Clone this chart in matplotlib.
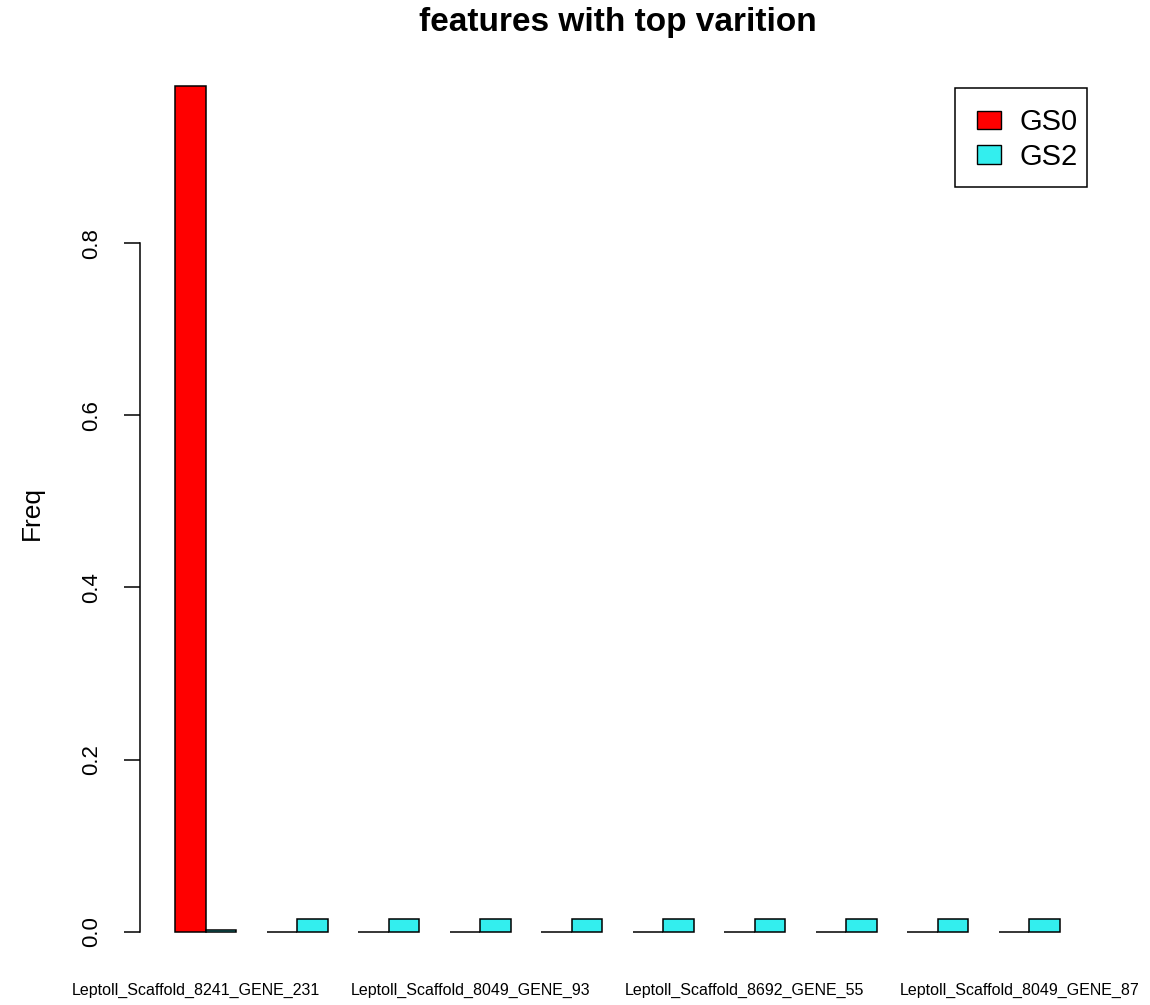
import numpy as np
import matplotlib
matplotlib.use("Agg")
import matplotlib.pyplot as plt
from matplotlib.patches import Patch, Rectangle
from matplotlib.transforms import ScaledTranslation

plt.rcParams['font.family'] = ['Liberation Sans', 'DejaVu Sans']

# ---- data ----
features = ["Leptoll_Scaffold_8241_GENE_231", "", "",
            "Leptoll_Scaffold_8049_GENE_93", "", "",
            "Leptoll_Scaffold_8692_GENE_55", "", "",
            "Leptoll_Scaffold_8049_GENE_87"]
groups = ["GS0", "GS2"]
gs0 = [0.983, 0, 0, 0, 0, 0, 0, 0, 0, 0]
gs2 = [0.002, 0.0148, 0.0148, 0.0148, 0.0148, 0.0148, 0.0148, 0.0148, 0.0148, 0.0148]
colors = ["#FF0000", "#33EEEE"]
title = "features with top varition"
ylabel = "Freq"
yticks = [0.0, 0.2, 0.4, 0.6, 0.8]

W, H = 1150, 1005
fig = plt.figure(figsize=(W / 100, H / 100), dpi=100)
ax = fig.add_axes([140 / W, 1 - 965.5 / H, 955 / W, (965.5 - 52) / H])

n = len(features)
idx = np.arange(n)
left0 = 1 + 3 * idx
left1 = 2 + 3 * idx
ax.bar(left0, gs0, width=1, align='edge', color=colors[0], edgecolor='black', linewidth=1.1)
ax.bar(left1, gs2, width=1, align='edge', color=colors[1], edgecolor='black', linewidth=1.1)

ymax = max(max(gs0), max(gs2))
ax.set_ylim(-0.04 * ymax, 1.04 * ymax)
ax.set_xlim(-0.16, 31.16)

for s in ['top', 'right', 'bottom']:
    ax.spines[s].set_visible(False)
ax.spines['left'].set_bounds(yticks[0], yticks[-1])
ax.spines['left'].set_linewidth(1.1)

ax.set_yticks(yticks)
ax.set_yticklabels([f"{v:.1f}" for v in yticks], rotation=90, va='center', fontsize=16)
ax.tick_params(axis='y', length=11.5, width=1.1, pad=16)

centers = 3 * idx + 2
ax.set_xticks(centers)
ax.set_xticklabels(features, fontsize=11.5)
ax.tick_params(axis='x', length=0, pad=12.5)
shift = ScaledTranslation(-10 / 100, 0, fig.dpi_scale_trans)
for lab in ax.get_xticklabels():
    lab.set_transform(lab.get_transform() + shift)

fig.text(32 / W, 1 - 513 / H, ylabel, rotation=90, ha='center', va='center', fontsize=19)
fig.text(617.5 / W, 1 - 23 / H, title, ha='center', va='center', fontsize=24, fontweight='bold')

handles = [Patch(facecolor=colors[0], edgecolor='black'),
           Patch(facecolor=colors[1], edgecolor='black')]
leg = ax.legend(handles, groups, loc='center right',
                bbox_to_anchor=(1078 / W, 1 - 139.5 / H), bbox_transform=fig.transFigure,
                borderaxespad=0, fontsize=21, frameon=False,
                handlelength=0.8, handleheight=0.6,
                handletextpad=0.65, labelspacing=0.22, borderpad=0)
fig.patches.append(Rectangle((955 / W, 1 - 187 / H), (1087 - 955) / W, (187 - 88) / H,
                             transform=fig.transFigure, fill=False, edgecolor='black',
                             linewidth=1.1))

fig.savefig("out.png", dpi=100)
